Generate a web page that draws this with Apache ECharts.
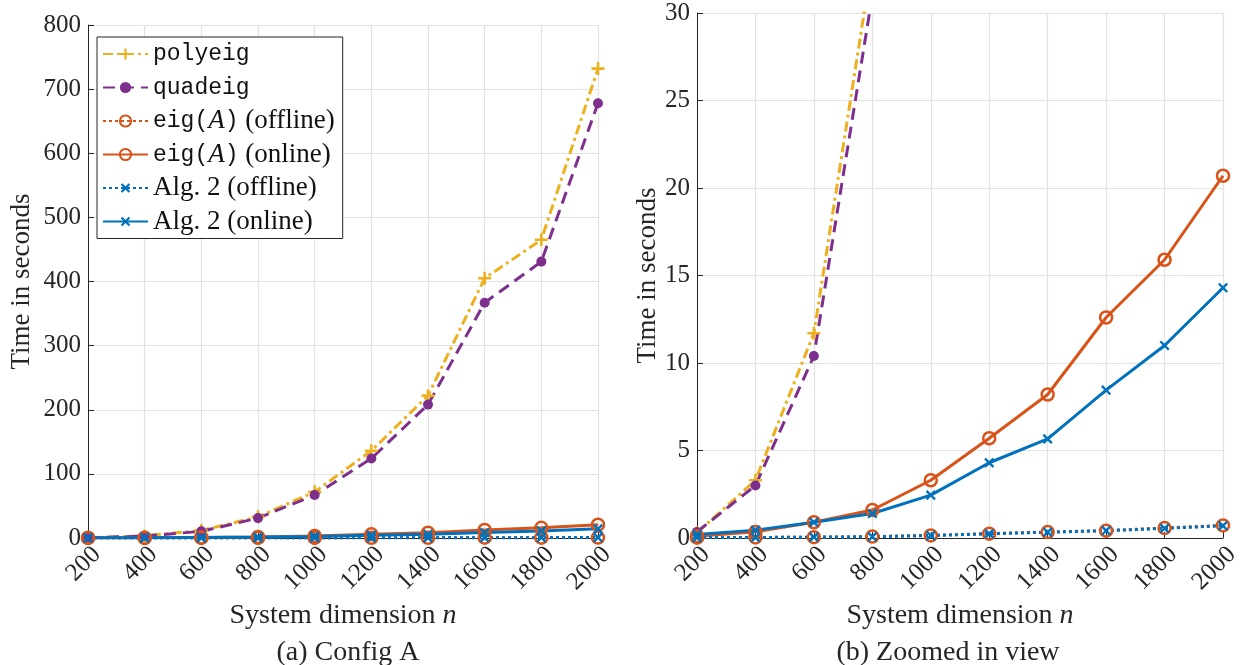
<!DOCTYPE html>
<html>
<head>
<meta charset="utf-8">
<script src="https://cdn.jsdelivr.net/npm/echarts@6/dist/echarts.min.js"></script>
<style>
  html, body { margin: 0; padding: 0; background: #fff; }
  #chart { width: 1243px; height: 665px; }
</style>
</head>
<body>
<div id="chart"></div>
<script>
const dims = [200, 400, 600, 800, 1000, 1200, 1400, 1600, 1800, 2000];
const polyeig = [0.3, 3.3, 11.7, 33, 72, 136, 222, 405, 465, 732];
const quadeig = [0.35, 3.0, 10.4, 31, 67, 124, 208, 367, 431, 678];
const eigOffline = [0.02, 0.03, 0.05, 0.08, 0.15, 0.25, 0.34, 0.42, 0.57, 0.72];
const eigOnline = [0.1, 0.35, 0.9, 1.6, 3.3, 5.7, 8.2, 12.6, 15.9, 20.7];
const algOffline = [0.02, 0.03, 0.05, 0.07, 0.14, 0.24, 0.33, 0.42, 0.55, 0.7];
const algOnline = [0.2, 0.45, 0.9, 1.4, 2.45, 4.3, 5.66, 8.45, 11.0, 14.3];
const captions = ["(a) Config A", "(b) Zoomed in view"];

const serif = "Liberation Serif";
const mono = "Liberation Mono";
const txt = "#262626";
const plus = "path://M4,0H6V4H10V6H6V10H4V6H0V4H4Z";

const legendText = {
  "polyeig": "{m|polyeig}",
  "quadeig": "{m|quadeig}",
  "eig(A) (offline)": "{m|eig(}{i|A}{m|)}{s| (offline)}",
  "eig(A) (online)": "{m|eig(}{i|A}{m|)}{s| (online)}",
  "Alg. 2 (offline)": "{s|Alg. 2 (offline)}",
  "Alg. 2 (online)": "{s|Alg. 2 (online)}"
};

function pairs(arr) {
  return dims.map((d, i) => [d, arr[i]]);
}

function seriesFor(idx) {
  const common = { xAxisIndex: idx, yAxisIndex: idx, z: 2 };
  return [
    Object.assign({}, common, {
      name: "polyeig", type: "line", data: pairs(polyeig),
      symbol: plus, symbolSize: 13,
      itemStyle: { color: "#EDB120" },
      lineStyle: { color: "#EDB120", width: 3, type: [10, 4, 3, 4] }
    }),
    Object.assign({}, common, {
      name: "quadeig", type: "line", data: pairs(quadeig),
      symbol: "circle", symbolSize: 10,
      itemStyle: { color: "#7E2F8E" },
      lineStyle: { color: "#7E2F8E", width: 3, type: [12, 7] }
    }),
    Object.assign({}, common, {
      name: "eig(A) (offline)", type: "line", data: pairs(eigOffline),
      symbol: "circle", symbolSize: 12,
      itemStyle: { color: "rgba(0,0,0,0)", borderColor: "#D95319", borderWidth: 2.5 },
      lineStyle: { color: "#D95319", width: 3, type: [3, 3] }
    }),
    Object.assign({}, common, {
      name: "eig(A) (online)", type: "line", data: pairs(eigOnline),
      symbol: "circle", symbolSize: 12,
      itemStyle: { color: "rgba(0,0,0,0)", borderColor: "#D95319", borderWidth: 2.5 },
      lineStyle: { color: "#D95319", width: 3 }
    }),
    Object.assign({}, common, {
      name: "Alg. 2 (offline)", type: "line", data: pairs(algOffline),
      symbol: plus, symbolRotate: 45, symbolSize: 12,
      itemStyle: { color: "#0072BD" },
      lineStyle: { color: "#0072BD", width: 3, type: [3, 3] }
    }),
    Object.assign({}, common, {
      name: "Alg. 2 (online)", type: "line", data: pairs(algOnline),
      symbol: plus, symbolRotate: 45, symbolSize: 12,
      itemStyle: { color: "#0072BD" },
      lineStyle: { color: "#0072BD", width: 3 }
    })
  ];
}

function xAxisFor(idx) {
  return {
    type: "value", gridIndex: idx, min: 200, max: 2000, interval: 200,
    name: "{a|System dimension }{i|n}", nameLocation: "middle", nameGap: 57,
    nameTextStyle: {
      rich: {
        a: { fontFamily: serif, fontSize: 28, color: txt },
        i: { fontFamily: serif, fontSize: 28, fontStyle: "italic", color: txt }
      }
    },
    axisLine: { show: true, lineStyle: { color: "#262626", width: 1 } },
    axisTick: { show: true, inside: true, length: 6, lineStyle: { color: "#262626" } },
    axisLabel: {
      rotate: 45, fontFamily: serif, fontSize: 25, color: txt, margin: 4,
      verticalAlign: "top",
      formatter: function (v) { return String(v); }
    },
    splitLine: { show: true, lineStyle: { color: "#e2e2e2", width: 1.2 } }
  };
}

function yAxisFor(idx, max, interval, gap) {
  return {
    type: "value", gridIndex: idx, min: 0, max: max, interval: interval,
    name: "Time in seconds", nameLocation: "middle", nameGap: gap,
    nameTextStyle: { fontFamily: serif, fontSize: 27, color: txt },
    axisLine: { show: true, lineStyle: { color: "#262626", width: 1 } },
    axisTick: { show: true, inside: true, length: 6, lineStyle: { color: "#262626" } },
    axisLabel: { fontFamily: serif, fontSize: 25, color: txt, margin: 7 },
    splitLine: { show: true, lineStyle: { color: "#e2e2e2", width: 1.2 } }
  };
}

const chart = echarts.init(document.getElementById("chart"));
const option = {
  animation: false,
  backgroundColor: "#fff",
  title: [
    { text: captions[0], left: 343, top: 634, textAlign: "center",
      textStyle: { fontFamily: serif, fontSize: 28, fontWeight: "normal", color: txt } },
    { text: captions[1], left: 943, top: 634, textAlign: "center",
      textStyle: { fontFamily: serif, fontSize: 28, fontWeight: "normal", color: txt } }
  ],
  grid: [
    { left: 88, right: 645, top: 25, bottom: 127 },
    { left: 697, right: 20, top: 13, bottom: 127 }
  ],
  legend: {
    orient: "vertical", left: 97, top: 37,
    backgroundColor: "#fff", borderColor: "#262626", borderWidth: 1, borderRadius: 0,
    padding: [3, 8, 3, 5],
    itemWidth: 45, itemHeight: 14, itemGap: 5.5,
    data: Object.keys(legendText),
    formatter: function (name) { return legendText[name]; },
    textStyle: {
      color: "#111", lineHeight: 28,
      rich: {
        m: { fontFamily: mono, fontSize: 23, lineHeight: 28, color: "#111" },
        i: { fontFamily: serif, fontSize: 27, lineHeight: 28, fontStyle: "italic", color: "#111" },
        s: { fontFamily: serif, fontSize: 27, lineHeight: 28, color: "#111" }
      }
    }
  },
  xAxis: [xAxisFor(0), xAxisFor(1)],
  yAxis: [yAxisFor(0, 800, 100, 53), yAxisFor(1, 30, 5, 34)],
  series: seriesFor(0).concat(seriesFor(1))
};
chart.setOption(option);

window.addEventListener("resize", () => {
  chart.resize();
});
</script>
</body>
</html>
